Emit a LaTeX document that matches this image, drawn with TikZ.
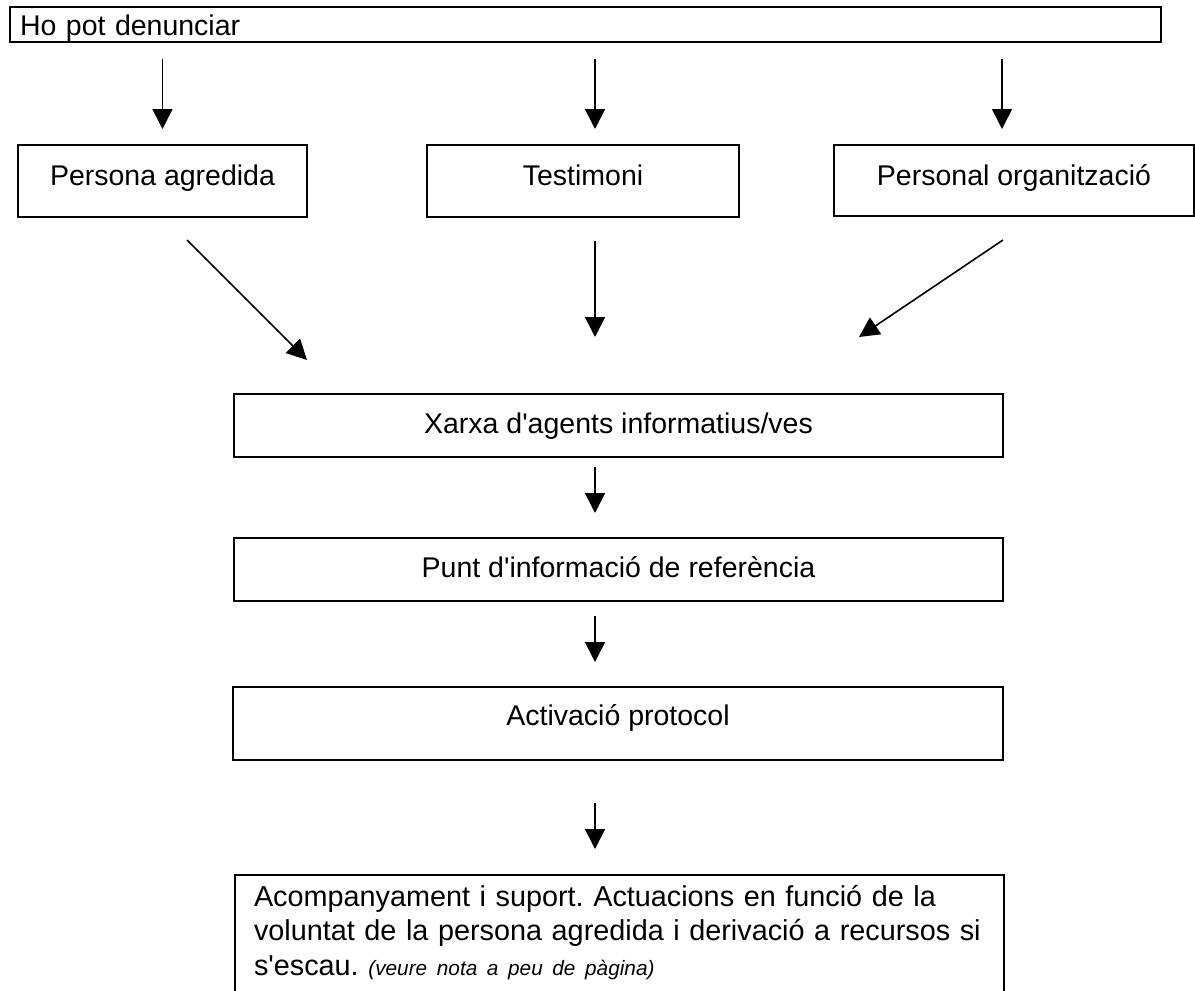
\documentclass[tikz,border=0pt]{standalone}
\usepackage{fontspec}
\setmainfont{Liberation Sans}
\usetikzlibrary{arrows.meta,calc}
\newcommand{\apos}{\textquotesingle}
\begin{document}
\begin{tikzpicture}[x=1pt,y=-1pt,
  box/.style={draw, line width=2pt, rectangle, inner sep=0pt,
    font=\fontsize{28.5}{34.5}\selectfont},
  arr/.style={line width=1.6pt, -{Triangle[length=20pt,width=20pt]}}]
\useasboundingbox (0,0) rectangle (1195,991);
\clip (0,0) rectangle (1195,991);

% top box
\node[box, anchor=base west, text width=1131pt, align=left, inner xsep=10pt,
      text height=28pt, text depth=7pt] (hp) at (9,35) {Ho pot denunciar};

% row of three
\node[box, anchor=base, minimum width=289pt, text height=40pt, text depth=32pt] (pa) at (162.5,185) {Persona agredida};
\node[box, anchor=base, minimum width=312pt, text height=40pt, text depth=32pt] (t) at (583,185) {Testimoni};
\node[box, anchor=base, minimum width=360pt, text height=40pt, text depth=31pt] (po) at (1014,185) {Personal organització};

% vertical chain
\node[box, anchor=base, minimum width=769pt, text height=39pt, text depth=24pt] (x) at (618.5,433) {Xarxa d\apos agents informatius/ves};
\node[box, anchor=base, minimum width=769pt, text height=39pt, text depth=24pt] (p) at (618.5,577) {Punt d\apos informació de referència};
\node[box, anchor=base, minimum width=770pt, text height=38pt, text depth=35pt] (ac) at (618,725) {Activació protocol};
\node[box, anchor=base west, text width=731pt, align=left, inner xsep=19pt,
      text height=31pt, text depth=150pt,
      font=\fontsize{28.8}{34.5}\selectfont\frenchspacing] (s) at (234,906)
  {Acompanyament i suport. Actuacions en funció de la\\
   voluntat de la persona agredida i derivació a recursos si\\
   s\apos escau. {\itshape\fontsize{20.8}{34.5}\selectfont (veure nota a peu de pàgina)}};

% arrows from top box
\draw[arr, shorten <=16pt, shorten >=15pt] (hp.south -| pa.north) -- (pa.north);
\draw[arr, shorten <=16pt, shorten >=15pt] ($(hp.south -| t.north)+(12,0)$) -- ($(t.north)+(12,0)$);
\draw[arr, shorten <=16pt, shorten >=15pt] ($(hp.south -| po.north)+(-12,0)$) -- ($(po.north)+(-12,0)$);

% arrows from row to chain (free ends)
\coordinate (d1s) at (187,240);
\coordinate (d1e) at (307,360);
\coordinate (d2e) at (595,337);
\coordinate (d3s) at (1003,240);
\coordinate (d3e) at (859,337);
\draw[arr] (d1s) -- (d1e);
\draw[arr] ($(t.south)+(12,23)$) -- (d2e);
\draw[arr] (d3s) -- (d3e);

% chain arrows
\draw[arr, shorten <=9pt, shorten >=24pt] ($(x.south)+(-23.5,0)$) -- ($(p.north)+(-23.5,0)$);
\draw[arr, shorten <=14pt, shorten >=24pt] ($(p.south)+(-23.5,0)$) -- ($(ac.north)+(-23,0)$);
\draw[arr, shorten <=42pt, shorten >=25pt] ($(ac.south)+(-23,0)$) -- ($(s.north west)+(361,0)$);
\end{tikzpicture}
\end{document}
